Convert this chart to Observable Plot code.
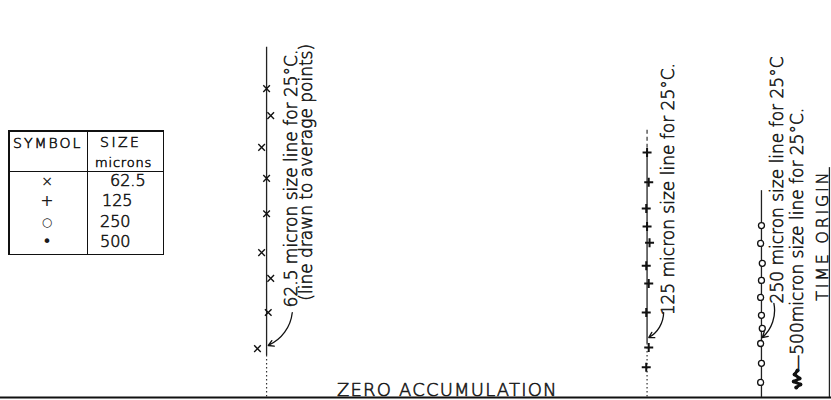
<!DOCTYPE html>
<html><head><meta charset="utf-8">
<script src="https://cdn.jsdelivr.net/npm/d3@7"></script>
<script src="https://cdn.jsdelivr.net/npm/@observablehq/plot@0.6"></script>
<style>
body{margin:0;background:#fff;}
#wrap{position:relative;width:831px;height:400px;font-family:"DejaVu Sans",sans-serif;color:#1a1a1a;}
#wrap svg{position:absolute;left:0;top:0;}
.lg{position:absolute;background:#111;}
.lt{position:absolute;line-height:1;white-space:nowrap;font-weight:200;-webkit-text-stroke:0.6px #1a1a1a;}
.ls{position:absolute;line-height:1;white-space:nowrap;font-weight:400;}
</style></head>
<body><div id="wrap"></div>
<script>
// Legend table
const legendSymbols = ["×", "+", "○", "•"];
const legendSizes = ["62.5", "125", "250", "500"];

// x = relative time (TIME ORIGIN = 0, increasing to the left); y = accumulation (0 = zero accumulation)
// 62.5 micron points (×)
const t625 = [67.9, 67.4, 68.5, 67.9, 67.9, 68.5, 67.4, 67.7, 69.0];
const a625 = [77.8, 71.0, 63.0, 55.2, 46.3, 36.5, 30.0, 21.4, 12.3];
// 125 micron points (+)
const t125 = [22.0, 21.8, 22.1, 22.0, 21.7, 22.1, 21.8, 22.1, 21.8, 22.1];
const a125 = [61.7, 54.2, 47.6, 43.1, 39.0, 33.2, 28.7, 21.4, 12.6, 7.6];
// 250 micron points (o)
const t250 = [8.2, 8.3, 8.1, 8.2, 8.3, 8.2, 8.1, 8.3, 8.2, 8.3];
const a250 = [43.3, 38.8, 33.8, 29.5, 25.2, 20.7, 17.4, 13.6, 8.6, 3.8];
// 500 micron points (•)
const t500 = [3.85, 4.2, 3.6, 4.3, 3.5, 4.0];
const a500 = [6.8, 5.8, 4.8, 4.0, 3.3, 2.5];

// size lines: time, top accumulation, bottom accumulation
const solidLines = [
  {t: 67.9, y1: 88.2, y2: 10.6},
  {t: 22.0, y1: 62.2, y2: 13.6},
  {t: 8.2, y1: 52.1, y2: 0},
  {t: 0, y1: 57.9, y2: 0}
];
const dottedLines = [
  {t: 67.9, y1: 10.6, y2: 0},
  {t: 22.0, y1: 13.6, y2: 0}
];
const dashedLines = [
  {t: 22.0, y1: 67.3, y2: 62.2}
];

// labels
const labelText = ["62.5 micron size line for 25°C.", "(line drawn to average points)", "125 micron size line for 25°C.", "250 micron size line for 25°C", "—500micron size line for 25°C."];
const labelT = [64.9, 63.1, 19.4, 6.2, 3.9];
const labelA = [22.7, 24.4, 20.7, 23.7, 6.5];

// leader arrows
const arrows = [
  {x1: 64.8, y1: 21.4, x2: 67.7, y2: 13.1},
  {x1: 20.0, y1: 21.4, x2: 21.8, y2: 15.1},
  {x1: 6.7, y1: 23.7, x2: 8.1, y2: 15.1}
];

const pts = (ts, as) => ts.map((t, i) => ({t, a: as[i]}));
const labels = labelText.map((s, i) => ({s, t: labelT[i], a: labelA[i]}));
const ink = {fill: "#1a1a1a", stroke: "#1a1a1a", strokeWidth: 0.6, fontWeight: 200};

const chart = Plot.plot({
  width: 831, height: 400,
  marginLeft: 0, marginRight: 0, marginTop: 0, marginBottom: 3,
  x: {domain: [100, -0.25], axis: null},
  y: {domain: [0, 100], axis: null},
  style: {background: "transparent", fontFamily: "DejaVu Sans, sans-serif"},
  marks: [
    Plot.ruleY([0], {stroke: "#111", strokeWidth: 2}),
    Plot.ruleX(solidLines, {x: "t", y1: "y1", y2: "y2", stroke: "#222", strokeWidth: 1.3}),
    Plot.ruleX(dottedLines, {x: "t", y1: "y1", y2: "y2", stroke: "#333", strokeWidth: 1.2, strokeDasharray: "1.5,2.5"}),
    Plot.ruleX(dashedLines, {x: "t", y1: "y1", y2: "y2", stroke: "#333", strokeWidth: 1.2, strokeDasharray: "4,3"}),
    Plot.dot(pts(t625, a625), {x: "t", y: "a", symbol: "times", r: 3.1, stroke: "#111", strokeWidth: 1.4}),
    Plot.dot(pts(t125, a125), {x: "t", y: "a", symbol: "plus", r: 3.0, stroke: "#111", strokeWidth: 2}),
    Plot.dot(pts(t250, a250), {x: "t", y: "a", symbol: "circle", r: 3, stroke: "#111", fill: "white", strokeWidth: 1.3}),
    Plot.line(pts(t500, a500), {x: "t", y: "a", stroke: "#111", strokeWidth: 3}),
    Plot.dot(pts(t500, a500), {x: "t", y: "a", r: 2, fill: "#111"}),
    Plot.arrow(arrows, {x1: "x1", y1: "y1", x2: "x2", y2: "y2", bend: 30, headLength: 7, stroke: "#111", strokeWidth: 1.3}),
    Plot.text(labels, {x: "t", y: "a", text: "s", rotate: -90, textAnchor: "start", fontSize: 17, ...ink}),
    Plot.text(["TIME ORIGIN"], {x: 0.84, y: 24.4, text: d => d, rotate: -90, textAnchor: "start", fontSize: 16, ...ink}),
    Plot.text(["ZERO ACCUMULATION"], {x: 46.1, y: 0.5, text: d => d, lineAnchor: "bottom", textAnchor: "middle", fontSize: 18, ...ink})
  ]
});
d3.select(chart).selectAll("text").filter(function () { return this.textContent === "TIME ORIGIN"; }).style("letter-spacing", "2.7px");
d3.select(chart).selectAll("text").filter(function () { return this.textContent === "ZERO ACCUMULATION"; }).style("letter-spacing", "1.2px");

const wrap = document.getElementById("wrap");
wrap.appendChild(chart);

// legend table (HTML overlay)
function box(l, t, w, h) { const d = document.createElement("div"); d.className = "lg"; Object.assign(d.style, {left: l + "px", top: t + "px", width: w + "px", height: h + "px"}); wrap.appendChild(d); }
function txt(s, cls, l, t, fs, ls, extra) { const d = document.createElement("div"); d.className = cls; d.textContent = s; Object.assign(d.style, {left: l + "px", top: t + "px", fontSize: fs + "px", letterSpacing: (ls || 0) + "px"}, extra || {}); wrap.appendChild(d); }
box(8, 130, 156, 1.5); box(8, 253.5, 156, 1.5); box(8, 130, 1.5, 125); box(162.5, 130, 1.5, 125);
box(86.5, 130, 1.5, 125); box(8, 170.5, 156, 1.5);
txt("SYMBOL", "lt", 13, 136.4, 14, 2);
txt("SIZE", "lt", 100, 135.4, 14, 2.5);
txt("microns", "lt", 95, 156, 13, 0.8);
const rowTop = [173.1, 193.4, 213.7, 234.1];
const valLeft = [110, 102, 100, 100];
const symSize = [14, 16, 12, 16];
const symCenter = [182, 202, 223, 243];
legendSizes.forEach((s, i) => txt(s, "lt", valLeft[i], rowTop[i], 16, 0));
legendSymbols.forEach((s, i) => txt(s, "ls", 37, symCenter[i] - 0.55 * symSize[i], symSize[i], 0, {width: "20px", textAlign: "center"}));
</script>
</body></html>
